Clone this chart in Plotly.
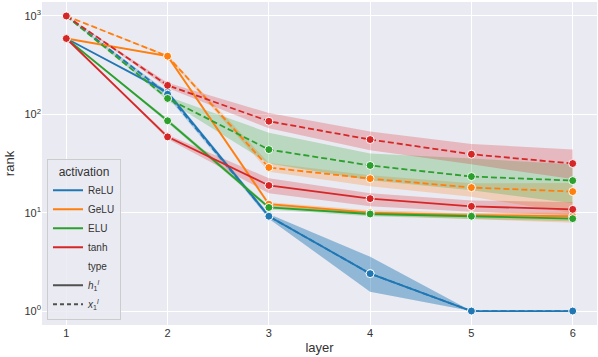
import plotly.graph_objects as go

layers = [1, 2, 3, 4, 5, 6]

activations = ["ReLU", "GeLU", "ELU", "tanh"]
colors = ["#1f77b4", "#ff7f0e", "#2ca02c", "#d62728"]

# mean rank per layer (h = solid, x = dashed)
relu_h = [590, 168, 9.2, 2.4, 1, 1]
relu_x = [1000, 160, 9.2, 2.4, 1, 1]
gelu_h = [590, 390, 12.2, 10.0, 9.4, 9.2]
gelu_x = [1000, 390, 28.8, 22.2, 18.0, 16.4]
elu_h = [590, 86, 11.3, 9.7, 9.2, 8.7]
elu_x = [1000, 145, 43.8, 30.2, 23.3, 21.2]
tanh_h = [590, 59, 18.9, 13.9, 11.6, 10.8]
tanh_x = [1000, 197, 85, 55.4, 39.3, 31.6]

# confidence bands
relu_h_lo = [590, 160, 8.7, 1.57, 1, 1]
relu_h_hi = [590, 176, 9.7, 3.56, 1, 1]
relu_x_lo = [1000, 150, 8.7, 1.57, 1, 1]
relu_x_hi = [1000, 170, 9.7, 3.56, 1, 1]
gelu_h_lo = [590, 380, 11.6, 9.4, 8.6, 7.9]
gelu_h_hi = [590, 400, 12.8, 10.6, 10.0, 10.2]
gelu_x_lo = [1000, 380, 26, 18.6, 14.5, 9.9]
gelu_x_hi = [1000, 400, 32, 24, 19.9, 20]
elu_h_lo = [590, 82, 10.8, 9.2, 8.6, 8.2]
elu_h_hi = [590, 90, 11.8, 10.2, 9.8, 9.3]
elu_x_lo = [1000, 138, 31.6, 21.4, 16.9, 12.5]
elu_x_hi = [1000, 152, 65, 40, 35.5, 31]
tanh_h_lo = [590, 56, 15.8, 11.6, 10.2, 9.4]
tanh_h_hi = [590, 62, 22.4, 15.8, 13.3, 12.8]
tanh_x_lo = [1000, 185, 72, 43, 31, 22]
tanh_x_hi = [1000, 210, 103, 67, 50, 44]

ytick_vals = [1, 10, 100, 1000]
ytick_text = ["10<sup>0</sup>", "10<sup>1</sup>", "10<sup>2</sup>", "10<sup>3</sup>"]

type_labels = ["<i>h</i><sub>1</sub><sup><i>l</i></sup>", "<i>x</i><sub>1</sub><sup><i>l</i></sup>"]

series = [
    (0, relu_h, relu_h_lo, relu_h_hi, "solid"),
    (0, relu_x, relu_x_lo, relu_x_hi, "6px,3px"),
    (1, gelu_h, gelu_h_lo, gelu_h_hi, "solid"),
    (1, gelu_x, gelu_x_lo, gelu_x_hi, "6px,3px"),
    (2, elu_h, elu_h_lo, elu_h_hi, "solid"),
    (2, elu_x, elu_x_lo, elu_x_hi, "6px,3px"),
    (3, tanh_h, tanh_h_lo, tanh_h_hi, "solid"),
    (3, tanh_x, tanh_x_lo, tanh_x_hi, "6px,3px"),
]


def rgba(hex_color, a):
    h = hex_color.lstrip("#")
    r, g, b = int(h[0:2], 16), int(h[2:4], 16), int(h[4:6], 16)
    return "rgba(%d,%d,%d,%s)" % (r, g, b, a)


fig = go.Figure()

# bands first so they sit under all lines
for ci, mean, lo, hi, dash in series:
    fig.add_trace(go.Scatter(x=layers, y=lo, mode="lines", line=dict(width=0),
                             showlegend=False, hoverinfo="skip"))
    fig.add_trace(go.Scatter(x=layers, y=hi, mode="lines", line=dict(width=0),
                             fill="tonexty", fillcolor=rgba(colors[ci], 0.25),
                             showlegend=False, hoverinfo="skip"))

for ci, mean, lo, hi, dash in series:
    fig.add_trace(go.Scatter(
        x=layers, y=mean, mode="lines+markers",
        line=dict(color=colors[ci], width=1.8, dash=dash),
        marker=dict(size=8, color=colors[ci], line=dict(color="white", width=1)),
        showlegend=False,
    ))

# legend entries
for name, c in zip(activations, colors):
    fig.add_trace(go.Scatter(x=[None], y=[None], mode="lines", name=name,
                             line=dict(color=c, width=2)))
fig.add_trace(go.Scatter(x=[None], y=[None], mode="lines", name="type",
                         line=dict(color="rgba(0,0,0,0)", width=2)))
fig.add_trace(go.Scatter(x=[None], y=[None], mode="lines", name=type_labels[0],
                         line=dict(color="#505050", width=2)))
fig.add_trace(go.Scatter(x=[None], y=[None], mode="lines", name=type_labels[1],
                         line=dict(color="#505050", width=2, dash="4px,3px")))

fig.update_layout(
    width=598, height=357,
    margin=dict(l=42, r=1, t=2, b=32),
    paper_bgcolor="white",
    plot_bgcolor="#eaeaf2",
    font=dict(family="Liberation Sans, Arial, sans-serif", size=11, color="#333333"),
    legend=dict(
        title=dict(text="activation", side="top center"),
        x=0.009, y=0.015, xanchor="left", yanchor="bottom",
        bgcolor="rgba(234,234,242,0.85)", bordercolor="#cccccc", borderwidth=1,
        font=dict(size=10), tracegroupgap=0, traceorder="normal",
        itemwidth=30,
    ),
)
fig.update_xaxes(
    range=[0.76, 6.24], tickvals=layers, title_text="layer",
    showgrid=True, gridcolor="white", gridwidth=1, zeroline=False,
    ticks="", title_standoff=4,
)
fig.update_yaxes(
    type="log", range=[-0.142, 3.142], tickvals=ytick_vals, ticktext=ytick_text,
    title_text="rank", showgrid=True, gridcolor="white", gridwidth=1,
    zeroline=False, ticks="", title_standoff=6,
)

fig.write_html("out.html", config={"displayModeBar": False},
               post_script="document.body.style.margin='0px';")
